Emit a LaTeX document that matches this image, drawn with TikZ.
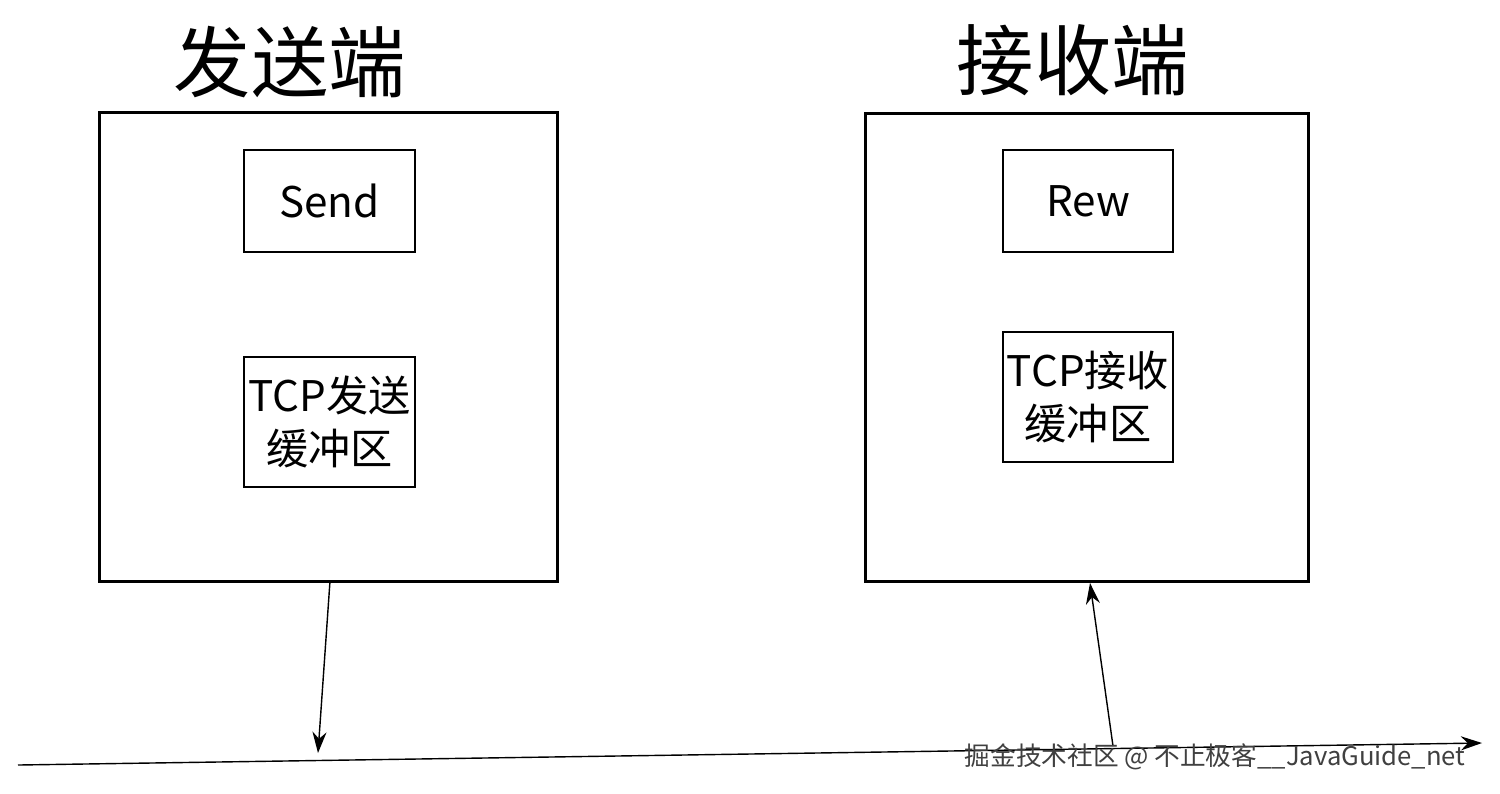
\documentclass[tikz,border=0pt]{standalone}
\usepackage{fontspec}
\setmainfont{Noto Sans CJK SC}
\usetikzlibrary{arrows.meta}
\begin{document}
\begin{tikzpicture}[x=0.01cm,y=-0.01cm,
	every node/.style={align=center},
	host/.style={draw, thick, rectangle, inner sep=0pt},
	part/.style={draw, thick, rectangle, inner sep=0pt, font=\fontsize{12}{15}\selectfont},
	title/.style={font=\fontsize{22}{24}\selectfont},
	wire/.style={-{Stealth[length=6pt,width=4pt]}, thin}
	]
	\useasboundingbox (0,0) rectangle (1500,793);

		% Sender
		\node[title] (stitle) at (290,62) {发送端};
		\node[host, minimum width=4.57cm, minimum height=4.68cm] (sender) at (328.5,347) {};
		\node[part, minimum width=1.71cm, minimum height=1.02cm] (send) at (329.5,201) {Send};
		\node[part, minimum width=1.71cm, minimum height=1.30cm] (sbuf) at (329.5,422) {TCP发送\\缓冲区};

		% Receiver
		\node[title] (rtitle) at (1073,60) {接收端};
		\node[host, minimum width=4.42cm, minimum height=4.67cm] (receiver) at (1087,347.5) {};
		\node[part, minimum width=1.70cm, minimum height=1.02cm] (rew) at (1088,201) {Rew};
		\node[part, minimum width=1.70cm, minimum height=1.30cm] (rbuf) at (1088,397) {TCP接收\\缓冲区};

		% Network
		\coordinate (lstart) at (18,765);
		\coordinate (lend) at (1482,743);
		\draw[wire] (lstart) -- (lend);
		\coordinate (sout) at (330,581);
		\coordinate (sin) at (318,753);
		\draw[wire] (sout) -- (sin);
		\coordinate (rfrom) at (1113,746);
		\coordinate (rto) at (1090,583);
		\draw[wire] (rfrom) -- (rto);

		\node[anchor=east, font=\fontsize{7.3}{8}\selectfont, text=black!75] (mark) at (1478,757) {掘金技术社区 @ 不止极客\_\_JavaGuide\_net};
	\end{tikzpicture}
\end{document}
